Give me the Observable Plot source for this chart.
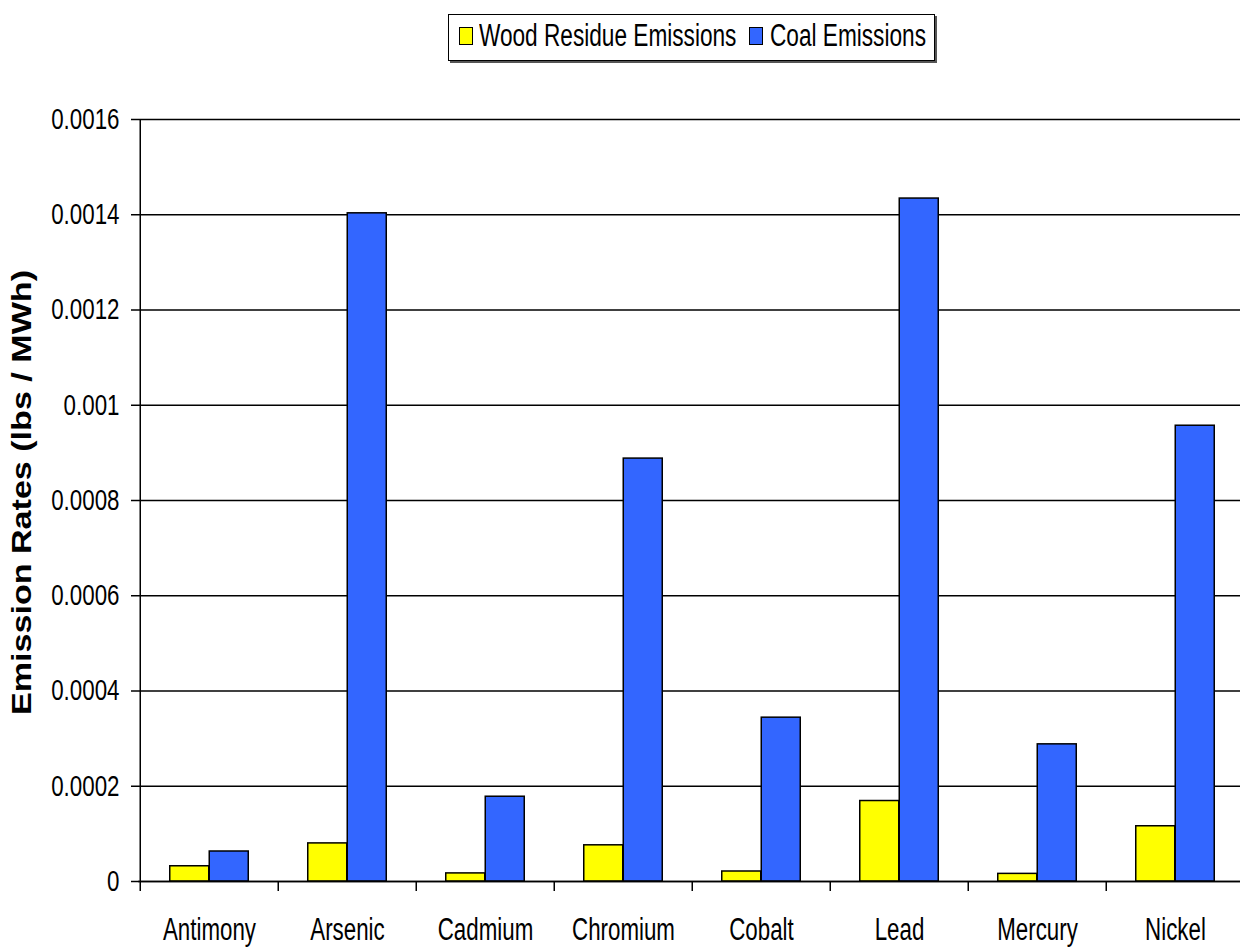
<!DOCTYPE html>
<html>
<head>
<meta charset="utf-8">
<script src="https://cdn.jsdelivr.net/npm/d3@7"></script>
<script src="https://cdn.jsdelivr.net/npm/@observablehq/plot@0.6"></script>
<style>
  html, body { margin: 0; padding: 0; background: #fff; overflow: hidden; width: 1240px; height: 948px; }
  #legendWrap { position: relative; height: 90px; }
  #legend { position: absolute; left: 448px; top: 14px; width: 485px; height: 45px; border: 1px solid #000;
    box-shadow: 2px 2px 0 #555; font-family: "Liberation Sans", Arial, sans-serif;
    font-size: 31px; color: #000; box-sizing: content-box; }
  .sw { position: absolute; top: 12px; width: 12px; height: 15.5px; border: 1.5px solid #000; }
  .lt { position: absolute; top: 3.4px; white-space: nowrap; transform: scaleX(0.73); transform-origin: 0 50%; line-height: 36px; }
  #chart svg { display: block; max-width: none; }
</style>
</head>
<body>
<div id="legendWrap"><div id="legend"></div></div>
<div id="chart"></div>
<script>
const metals = ["Antimony", "Arsenic", "Cadmium", "Chromium", "Cobalt", "Lead", "Mercury", "Nickel"];
const woodValues = [0.000032, 0.000080, 0.000017, 0.000076, 0.000021, 0.000169, 0.000016, 0.000116];
const coalValues = [0.000063, 0.001403, 0.000178, 0.000888, 0.000344, 0.001434, 0.000288, 0.000957];
const seriesNames = ["Wood Residue Emissions", "Coal Emissions"];
const seriesColors = ["#FFFF00", "#3366FF"];
const yTicks = [0, 0.0002, 0.0004, 0.0006, 0.0008, 0.001, 0.0012, 0.0014, 0.0016];
const yTitle = "Emission Rates (lbs / MWh)";

const rows = metals.map((m, i) => ({metal: m, wood: woodValues[i], coal: coalValues[i]}));

// legend (positions inside the box)
const legend = document.getElementById("legend");
const swLeft = [9.5, 300];
const txtLeft = [29.5, 321];
seriesNames.forEach((s, i) => {
  const sw = document.createElement("span");
  sw.className = "sw";
  sw.style.background = seriesColors[i];
  sw.style.left = swLeft[i] + "px";
  legend.appendChild(sw);
  const t = document.createElement("span");
  t.className = "lt";
  t.style.left = txtLeft[i] + "px";
  t.textContent = s;
  legend.appendChild(t);
});

const font = '"Liberation Sans", Arial, sans-serif';
const step = (1246 - 138) / metals.length;
const half = step / 2;
const barW = 39.5;

const plot = Plot.plot({
  width: 1240,
  height: 858,
  marginTop: 29,
  marginBottom: 67,
  marginLeft: 138,
  marginRight: 0,
  style: {fontFamily: font, fontSize: "27px", color: "#000", background: "#fff", overflow: "hidden"},
  x: {type: "band", domain: metals, range: [138, 1246], padding: 0, label: null},
  y: {domain: [0, 0.0016], label: null},
  marks: [
    Plot.gridY(yTicks, {stroke: "#000", strokeOpacity: 1, strokeWidth: 1.5}),
    Plot.barY(rows, {x: "metal", y: "wood", fill: seriesColors[0], stroke: "#000", strokeWidth: 1.5,
      insetLeft: half - barW, insetRight: half}),
    Plot.barY(rows, {x: "metal", y: "coal", fill: seriesColors[1], stroke: "#000", strokeWidth: 1.5,
      insetLeft: half, insetRight: half - barW}),
    Plot.ruleY([0], {stroke: "#000", strokeWidth: 1.5}),
    Plot.ruleX([metals[0]], {dx: -half, y1: 0, y2: 0.0016, stroke: "#000", strokeWidth: 1.5}),
    Plot.axisY({ticks: yTicks, tickSize: 7, tickPadding: 12, tickFormat: d => String(+d.toFixed(4)),
      fontSize: 29, strokeWidth: 1.5, label: null, className: "ylab"}),
    Plot.axisX({tickSize: 10, dx: -half, tickFormat: () => "", strokeWidth: 1.5, label: null}),
    Plot.axisX({tickSize: 0, tickPadding: 36, fontSize: 31, label: null, className: "xlab"}),
    Plot.text([yTitle], {frameAnchor: "left", textAnchor: "middle", dx: -116, dy: -8, rotate: -90, text: d => d,
      fontFamily: font, fontWeight: "bold", fontSize: 28, fill: "#000",
      className: "ytitle"})
  ]
});
document.getElementById("chart").appendChild(plot);
// condense labels horizontally (reference uses a narrow, vertically stretched face)
function condense(sel, k) {
  d3.select(plot).selectAll(sel).each(function() {
    const w = this.getComputedTextLength();
    if (w > 0) d3.select(this).attr("textLength", w * k).attr("lengthAdjust", "spacingAndGlyphs");
  });
}
condense(".ylab text", 0.77);
condense(".xlab text", 0.72);
// stretch rotated title to match reference length
d3.select(plot).selectAll(".ytitle text").attr("textLength", 445).attr("lengthAdjust", "spacingAndGlyphs");
</script>
</body>
</html>
